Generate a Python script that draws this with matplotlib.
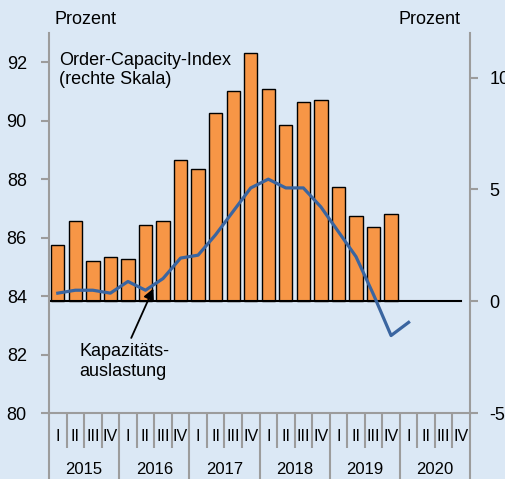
import matplotlib.pyplot as plt
import numpy as np

# Quartale 2015 Q1 .. 2020 Q4
years = ["2015", "2016", "2017", "2018", "2019", "2020"]
quarters = ["I", "II", "III", "IV"]

# Order-Capacity-Index (rechte Skala), 2015 Q1 .. 2019 Q4
oci = [2.5, 3.6, 1.8, 2.0,
       1.9, 3.4, 3.6, 6.3,
       5.9, 8.4, 9.4, 11.1,
       9.5, 7.9, 8.9, 9.0,
       5.1, 3.8, 3.3, 3.9]

# Kapazitätsauslastung (linke Skala), 2015 Q1 .. 2020 Q1
kap = [84.1, 84.2, 84.2, 84.1,
       84.5, 84.2, 84.6, 85.3,
       85.4, 86.1, 86.9, 87.7,
       88.0, 87.7, 87.7, 87.05,
       86.2, 85.35, 84.05, 82.65,
       83.1]

BG = "#dbe8f5"
ORANGE = "#f79646"
BLUE = "#3a65a0"
GREY = "#9c9c9c"

plt.rcParams["font.family"] = ["Liberation Sans", "DejaVu Sans"]
plt.rcParams["axes.unicode_minus"] = False

fig = plt.figure(figsize=(5.05, 4.79), dpi=100, facecolor=BG)
ax = fig.add_axes([49 / 505, 1 - 413 / 479, 421 / 505, 380 / 479])
ax2 = ax.twinx()
ax.set_zorder(ax2.get_zorder() + 1)
ax.patch.set_visible(False)

n_q = len(years) * len(quarters)
x_bar = np.arange(len(oci)) + 0.5
x_line = np.arange(len(kap)) + 0.5

ax2.bar(x_bar, oci, width=0.76, color=ORANGE, edgecolor="black", linewidth=1.0)
ax2.plot([0, n_q - 0.5], [0, 0], color="black", lw=1.5)
ax.plot(x_line, kap, color=BLUE, lw=2.3, solid_joinstyle="round")

ax.set_xlim(0, n_q)
ax.set_ylim(80, 93)
ax2.set_ylim(-5, 12)
ax.set_yticks(range(80, 93, 2))
ax2.set_yticks([-5, 0, 5, 10])

for spine in ["top", "right"]:
    ax.spines[spine].set_visible(False)
for spine in ["top", "left", "bottom"]:
    ax2.spines[spine].set_visible(False)
for s in [ax.spines["left"], ax.spines["bottom"], ax2.spines["right"]]:
    s.set_color(GREY)
    s.set_linewidth(1.5)

ax.tick_params(axis="y", colors=GREY, labelcolor="black", length=6, width=1.5,
               pad=10, labelsize=13)
ax2.tick_params(axis="y", colors=GREY, labelcolor="black", length=6, width=1.5,
                pad=8, labelsize=13)

# quarter / year separators below the axis
ax.set_xticks(range(0, n_q + 1, 4))
ax.set_xticks([i for i in range(n_q + 1) if i % 4], minor=True)
ax.tick_params(axis="x", which="major", length=48, width=1.5, color=GREY, labelbottom=False)
ax.tick_params(axis="x", which="minor", length=25, width=1.5, color=GREY, labelbottom=False)

for i in range(n_q):
    ax.text(i + 0.5, -0.063, quarters[i % 4], transform=ax.get_xaxis_transform(),
            ha="center", va="center", fontsize=11.5)
for j, yr in enumerate(years):
    ax.text(j * 4 + 2, -0.149, yr, transform=ax.get_xaxis_transform(),
            ha="center", va="center", fontsize=12)

ax.text(0.57, 91.73, "Order-Capacity-Index\n(rechte Skala)", ha="left", va="center",
        fontsize=13, linespacing=1.15)
ax.annotate("Kapazitäts-\nauslastung", xy=(5.95, 84.26), xytext=(1.73, 81.76),
            ha="left", va="center", fontsize=13, linespacing=1.2,
            arrowprops=dict(arrowstyle="-|>", color="black", lw=1.3,
                            mutation_scale=16, shrinkA=2, shrinkB=0,
                            relpos=(0.55, 1.0)))

fig.text(54 / 505, 1 - 20 / 479, "Prozent", ha="left", va="center", fontsize=13)
fig.text(461 / 505, 1 - 20 / 479, "Prozent", ha="right", va="center", fontsize=13)

fig.savefig("out.png", dpi=100, facecolor=BG)
